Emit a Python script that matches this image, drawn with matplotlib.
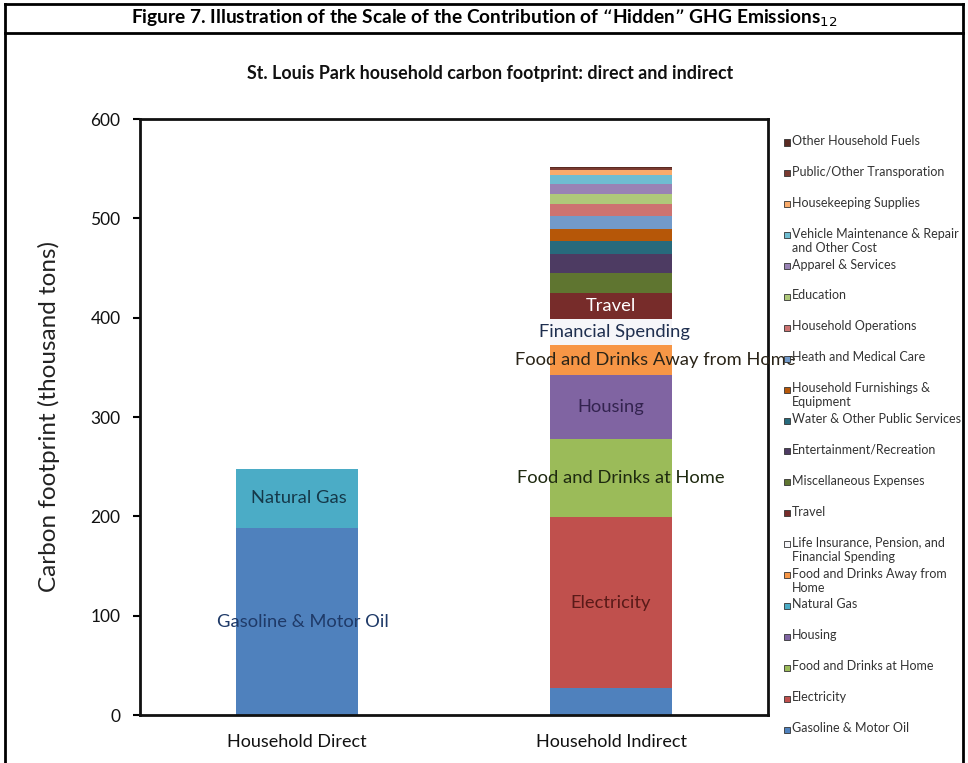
import matplotlib
matplotlib.use("Agg")
import matplotlib.pyplot as plt
import numpy as np
from matplotlib.lines import Line2D
from matplotlib.patches import Rectangle
from matplotlib.transforms import Bbox

FONT = ["Lato", "DejaVu Sans"]
plt.rcParams['font.family'] = FONT

categories = ["Household Direct", "Household Indirect"]

series = ["Gasoline & Motor Oil", "Electricity", "Food and Drinks at Home", "Housing",
          "Natural Gas", "Food and Drinks Away from Home",
          "Life Insurance, Pension, and Financial Spending", "Travel",
          "Miscellaneous Expenses", "Entertainment/Recreation",
          "Water & Other Public Services", "Household Furnishings & Equipment",
          "Heath and Medical Care", "Household Operations", "Education",
          "Apparel & Services", "Vehicle Maintenance & Repair and Other Cost",
          "Housekeeping Supplies", "Public/Other Transporation", "Other Household Fuels"]

legend_labels = ["Gasoline & Motor Oil", "Electricity", "Food and Drinks at Home", "Housing",
                 "Natural Gas", "Food and Drinks Away from\nHome",
                 "Life Insurance, Pension, and\nFinancial Spending", "Travel",
                 "Miscellaneous Expenses", "Entertainment/Recreation",
                 "Water & Other Public Services", "Household Furnishings &\nEquipment",
                 "Heath and Medical Care", "Household Operations", "Education",
                 "Apparel & Services", "Vehicle Maintenance & Repair\nand Other Cost",
                 "Housekeeping Supplies", "Public/Other Transporation", "Other Household Fuels"]

direct = [188, 0, 0, 0, 60, 0, 0, 0, 0, 0, 0, 0, 0, 0, 0, 0, 0, 0, 0, 0]
indirect = [27, 172, 79, 64, 0, 30, 27, 26, 20, 19, 13, 12, 13, 12, 11, 10, 9, 5, 2, 1]

colors = ["#4F81BD", "#C0504D", "#9BBB59", "#8064A2", "#4BACC6", "#F79646",
          "#F6F6F9", "#772C2A", "#5F7530", "#4D3B62", "#276A7C", "#B65708",
          "#729ACA", "#CD7371", "#AFC97A", "#9983B5", "#6FBDD1", "#F9AB6B",
          "#7A3A30", "#5A2A22"]

# (category index, series index, text, colour, x offset in px)
bar_labels = [
    (0, 0, "Gasoline & Motor Oil", "#1F3A68", 6),
    (0, 4, "Natural Gas", "#15394A", 2),
    (1, 1, "Electricity", "#5A1A18", 0),
    (1, 2, "Food and Drinks at Home", "#1F2A10", 10),
    (1, 3, "Housing", "#33234F", 0),
    (1, 5, "Food and Drinks Away from Home", "#2A2418", 44),
    (1, 6, "Financial Spending", "#1F2F4F", 3),
    (1, 7, "Travel", "#FFFFFF", 0),
]

W, H = 968, 763
fig = plt.figure(figsize=(W / 100, H / 100), dpi=100)
fig.patch.set_facecolor("white")

ax_l, ax_r, ax_t, ax_b = 140, 768, 119, 715
ax = fig.add_axes([ax_l / W, 1 - ax_b / H, (ax_r - ax_l) / W, (ax_b - ax_t) / H])

values = np.array([direct, indirect])  # shape (2, n)
x = np.arange(len(categories))
bottom = np.zeros(len(categories))
for i, name in enumerate(series):
    ax.bar(x, values[:, i], bottom=bottom, width=0.39, color=colors[i],
           linewidth=0, label=name, zorder=2)
    bottom += values[:, i]

cum = np.cumsum(values, axis=1)
for ci, si, txt, col, dx in bar_labels:
    top = cum[ci, si]
    mid = top - values[ci, si] / 2
    xoff = dx / (ax_r - ax_l) * 2.0
    ax.text(x[ci] + xoff, mid, txt, ha="center", va="center", color=col,
            fontsize=13.2, zorder=5, clip_on=False)

ax.set_xlim(-0.5, 1.5)
ax.set_ylim(0, 600)
ax.set_yticks(np.arange(0, 601, 100))
ax.set_xticks(x)
ax.set_xticklabels(categories, fontsize=13, color="#111111")
ax.tick_params(axis="x", length=0, pad=14)
ax.tick_params(axis="y", length=5, width=1.5, direction="out", pad=9,
               labelsize=12.5, labelcolor="#111111")
for s in ax.spines.values():
    s.set_linewidth(2)
    s.set_color("#111111")
ax.set_ylabel("Carbon footprint (thousand tons)", fontsize=17.5, color="#222222", labelpad=22)

# Titles
fig.text(484 / W, 1 - 18 / H,
         "Figure 7. Illustration of the Scale of the Contribution of \u201cHidden\u201d GHG Emissions$_{12}$",
         ha="center", va="center", fontsize=13.8, fontweight="bold", color="black")
fig.text(490 / W, 1 - 74 / H,
         "St. Louis Park household carbon footprint: direct and indirect",
         ha="center", va="center", fontsize=12.9, fontweight="bold", color="#111111")

# Legend (drawn from the series list, top entry = last series)
n = len(series)
y_first, y_last = 142, 729
clip = Bbox.from_extents(0, 0, 962, H)
for k in range(n):
    i = n - 1 - k
    yp = y_first + (y_last - y_first) * k / (n - 1)
    fig.add_artist(Rectangle((784 / W, 1 - (yp + 3.5) / H), 6 / W, 6 / H,
                             transform=fig.transFigure, facecolor=colors[i],
                             edgecolor="#333333", linewidth=0.6))
    t = fig.text(792 / W, 1 - (yp - 7) / H, legend_labels[i], ha="left", va="top",
                 fontsize=9, color="#333333", linespacing=1.2)
    t.set_clip_box(clip)
    t.set_clip_on(True)

# Outer frame
for (x0, y0, x1, y1) in [(5, 4, 963, 4), (5, 4, 5, H), (963, 4, 963, H), (5, 33, 963, 33)]:
    fig.add_artist(Line2D([x0 / W, x1 / W], [1 - y0 / H, 1 - y1 / H],
                          transform=fig.transFigure, color="black", linewidth=2))

fig.savefig("out.png", dpi=100)
